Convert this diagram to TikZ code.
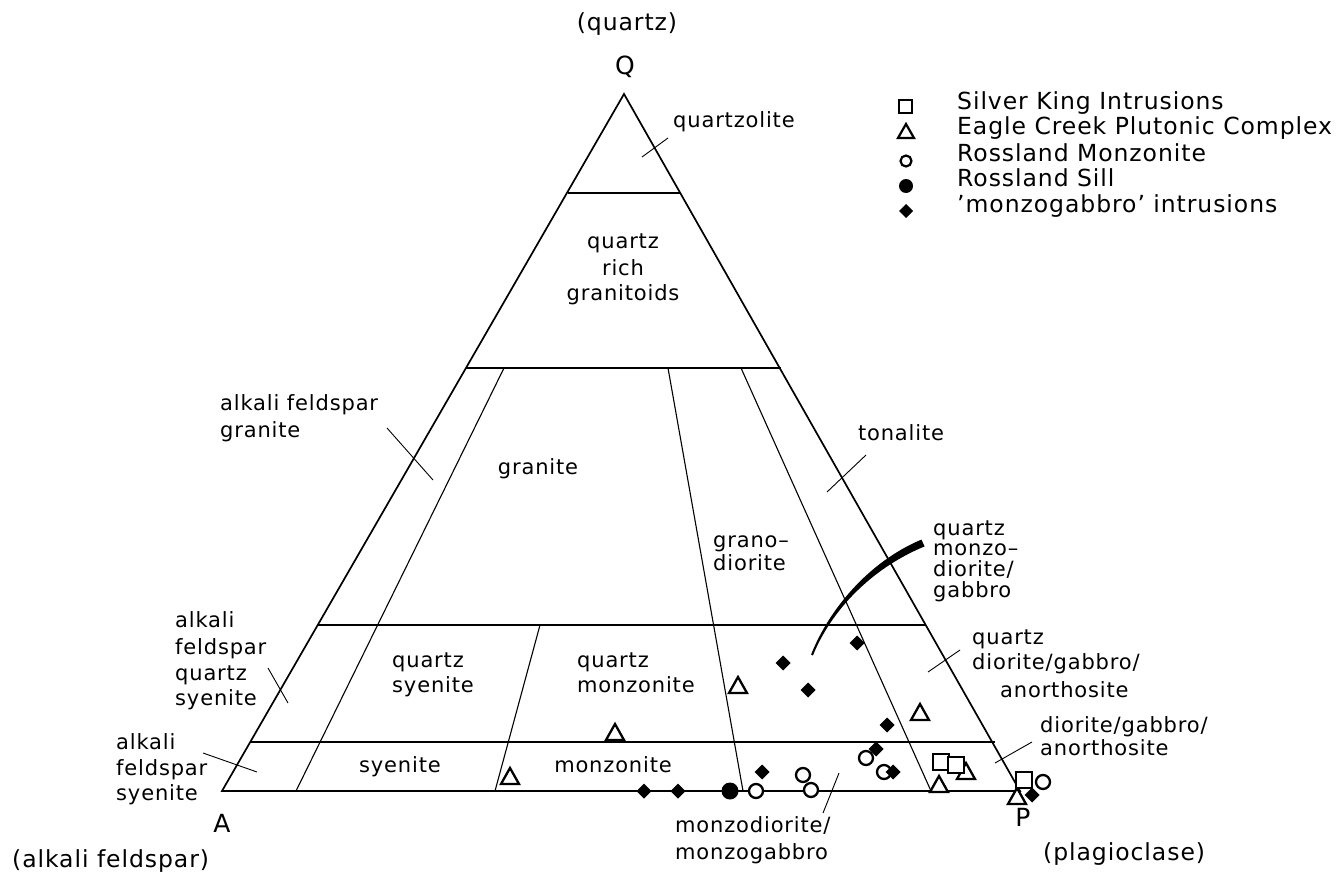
\documentclass[tikz,border=0pt]{standalone}
\usepackage{fontspec}
\setmainfont{DejaVu Sans}[LetterSpace=4]

\begin{document}
\begin{tikzpicture}[x=1pt, y=-1pt,
    lbl/.style={anchor=west, inner sep=0pt, text height=0.54em, text depth=0pt, font=\fontsize{21}{25}\selectfont},
    lblc/.style={lbl, anchor=center},
    big/.style={font=\fontsize{23.5}{28}\selectfont},
    vtx/.style={inner sep=0pt, text height=0.73em, text depth=0pt, font=\fontsize{25}{30}\selectfont},
    rim/.style={line width=1.7pt, line join=miter},
    field/.style={line width=1.1pt},
    leader/.style={line width=0.9pt},
    mk/.style={line width=2.3pt, fill=white},
]
    \useasboundingbox (0,0) rectangle (1338,875);

    \coordinate (A) at (222,791);
    \coordinate (P) at (1020,791);
    \coordinate (Q) at (624,94);
    \draw[rim] (A) -- (P) -- (Q) -- cycle;

    \draw[field] (568,193) -- (681,193);
    \draw[field] (466,368) -- (781,368);
    \draw[field] (318,625) -- (926,625);
    \draw[field] (250,742) -- (995,742);

    \draw[field] (296,791) -- (504,368);
    \draw[field] (495,791) -- (540,625);
    \draw[field] (743,791) -- (668,368);
    \draw[field] (931,791) -- (741,368);

    \fill (921.4,539.6) .. controls (868.5,561.8) and (829,609.4) .. (811.1,654.5)
        -- (812.9,655.5) .. controls (831,610.6) and (871.5,568.2) .. (924.6,546.4) -- cycle;

    \node[lblc, big] (qtop) at (627,28) {(quartz)};
    \node[vtx] (qv) at (625,71) {Q};
    \node[vtx] (av) at (222,829) {A};
    \node[vtx] (pv) at (1023,823) {P};
    \node[lbl, big] (abot) at (12,865) {(alkali feldspar)};
    \node[lbl, big] (pbot) at (1043,858) {(plagioclase)};

    \node[lbl] (qzl) at (673,125) {quartzolite};
    \node[lblc] (qrg1) at (623,246) {quartz};
    \node[lblc] (qrg2) at (623,273) {rich};
    \node[lblc] (qrg3) at (623,298) {granitoids};
    \node[lbl] (afg1) at (220,408) {alkali feldspar};
    \node[lbl] (afg2) at (220,435) {granite};
    \node[lblc] (gr) at (538,472) {granite};
    \node[lbl] (gd1) at (713,545) {grano–};
    \node[lbl] (gd2) at (713,568) {diorite};
    \node[lblc] (ton) at (901,438) {tonalite};
    \node[lbl] (qmd1) at (933,533) {quartz};
    \node[lbl] (qmd2) at (933,553) {monzo–};
    \node[lbl] (qmd3) at (933,574) {diorite/};
    \node[lbl] (qmd4) at (933,595) {gabbro};
    \node[lbl] (qd1) at (972,642) {quartz};
    \node[lbl] (qd2) at (972,667) {diorite/gabbro/};
    \node[lbl] (qd3) at (1000,695) {anorthosite};
    \node[lbl] (dg1) at (1040,730) {diorite/gabbro/};
    \node[lbl] (dg2) at (1040,753) {anorthosite};
    \node[lbl] (afq1) at (175,625) {alkali};
    \node[lbl] (afq2) at (175,652) {feldspar};
    \node[lbl] (afq3) at (175,678) {quartz};
    \node[lbl] (afq4) at (175,703) {syenite};
    \node[lbl] (afs1) at (116,747) {alkali};
    \node[lbl] (afs2) at (116,773) {feldspar};
    \node[lbl] (afs3) at (116,798) {syenite};
    \node[lbl] (qs1) at (392,665) {quartz};
    \node[lbl] (qs2) at (392,690) {syenite};
    \node[lblc] (sy) at (400,770) {syenite};
    \node[lbl] (qm1) at (577,665) {quartz};
    \node[lbl] (qm2) at (577,690) {monzonite};
    \node[lblc] (mz) at (613,770) {monzonite};
    \node[lbl] (md1) at (675,830) {monzodiorite/};
    \node[lbl] (md2) at (675,857) {monzogabbro};

    \coordinate (qzl-a) at (668,138);  \coordinate (qzl-b) at (642,157);
    \coordinate (afg-a) at (387,428);  \coordinate (afg-b) at (433,480);
    \coordinate (ton-a) at (866,455);  \coordinate (ton-b) at (827,492);
    \coordinate (qd-a) at (960,650);   \coordinate (qd-b) at (928,672);
    \coordinate (dg-a) at (1032,742);  \coordinate (dg-b) at (995,763);
    \coordinate (afq-a) at (268,668);  \coordinate (afq-b) at (288,703);
    \coordinate (afs-a) at (203,753);  \coordinate (afs-b) at (257,772);
    \coordinate (md-a) at (823,813);   \coordinate (md-b) at (839,773);
    \foreach \l in {qzl,afg,ton,qd,dg,afq,afs,md}
        \draw[leader] (\l-a) -- (\l-b);

    \foreach \x/\y in {738/686, 615/733, 510/777, 920/713, 966/772, 939/785, 1017/797}
        \draw[mk] (\x-9,\y+7) -- (\x+9,\y+7) -- (\x,\y-9) -- cycle;
    \foreach \x/\y in {941/762, 956/765, 1024/780}
        \draw[mk] (\x-8,\y-8) rectangle (\x+8,\y+8);
    \foreach \x/\y in {756/791, 803/775, 811/790, 866/758, 884/772, 1043/782}
        \draw[mk] (\x,\y) circle[radius=7pt];
    \fill (730,791) circle[radius=8.5pt];
    \foreach \x/\y in {857/643, 783/663, 808/690, 887/725, 876/749, 644/791, 678/791, 762/772, 893/772, 1032/795}
        \fill (\x-7.5,\y) -- (\x,\y-7.5) -- (\x+7.5,\y) -- (\x,\y+7.5) -- cycle;

    \draw[mk, line width=2.2pt] (899,100) rectangle (912,113);
    \draw[mk, line width=2.2pt] (898,138) -- (914,138) -- (906,124) -- cycle;
    \draw[mk, line width=2.2pt] (906,161) circle[radius=5.5pt];
    \fill (906,186) circle[radius=7pt];
    \fill (899,211) -- (906,204) -- (913,211) -- (906,218) -- cycle;

    \node[lbl, big] (lg1) at (957,107) {Silver King Intrusions};
    \node[lbl, big] (lg2) at (957,132) {Eagle Creek Plutonic Complex};
    \node[lbl, big] (lg3) at (957,159) {Rossland Monzonite};
    \node[lbl, big] (lg4) at (957,184) {Rossland Sill};
    \node[lbl, big] (lg5) at (957,210) {'monzogabbro' intrusions};
\end{tikzpicture}
\end{document}
